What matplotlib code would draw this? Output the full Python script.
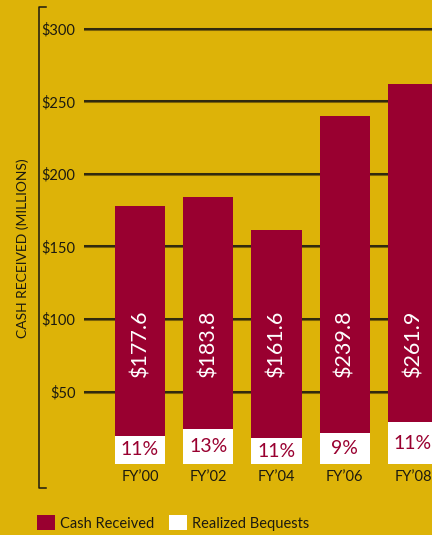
import matplotlib
matplotlib.use("Agg")
import matplotlib.pyplot as plt
from matplotlib.patches import Patch
from matplotlib.lines import Line2D

years = ["FY\u201900", "FY\u201902", "FY\u201904", "FY\u201906", "FY\u201908"]
cash_received = [177.6, 183.8, 161.6, 239.8, 261.9]
bequest_pct = [11, 13, 11, 9, 11]
yticks = [50, 100, 150, 200, 250, 300]
ytick_labels = ["$50", "$100", "$150", "$200", "$250", "$300"]

GOLD = "#DDB308"
CRIMSON = "#990030"
DARK = "#1c1a10"
FONT = ["Lato", "DejaVu Sans"]
plt.rcParams["font.family"] = FONT

W, H = 432, 535
fig = plt.figure(figsize=(W / 100, H / 100), dpi=100, facecolor=GOLD)
ax = fig.add_axes([84 / W, 1 - 488 / H, 1 - 84 / W, (488 - 7) / H])
ax.set_facecolor(GOLD)
ax.set_xlim(-0.82, 4.278)
ax.set_ylim(-16.5, 315)
for s in ax.spines.values():
    s.set_visible(False)

for t in yticks:
    ax.axhline(t, color="#7a6208", lw=2.2, zorder=1)
    ax.axhline(t, color=DARK, lw=1.1, zorder=1.1)

x = list(range(len(years)))
bequest_vals = [v * p / 100 for v, p in zip(cash_received, bequest_pct)]
ax.bar(x, cash_received, width=0.733, color=CRIMSON, zorder=2)
ax.bar(x, bequest_vals, width=0.733, color="white", zorder=3)

for xi, v, b, p in zip(x, cash_received, bequest_vals, bequest_pct):
    ax.text(xi, 83, f"${v:.1f}", rotation=90, ha="center", va="center",
            color="white", fontsize=15.5, zorder=4)
    ax.text(xi, b / 2, f"{p}%", ha="center", va="center",
            color=CRIMSON, fontsize=14, zorder=4)
    ax.text(xi, -9, years[xi], ha="center", va="center",
            color=DARK, fontsize=10.5, zorder=4)

ax.set_yticks(yticks)
ax.set_yticklabels(ytick_labels, fontsize=10.5, color=DARK)
ax.tick_params(axis="y", length=0, pad=6)
ax.set_xticks([])

# bracket-style axis line
bx = 38.5 / W
fig.add_artist(Line2D([bx + 7 / W, bx, bx, bx + 7 / W],
                      [1 - 7 / H, 1 - 7 / H, 1 - 488 / H, 1 - 488 / H],
                      color=DARK, lw=1.1))

fig.text(23 / W, 1 - 248 / H, "CASH RECEIVED (MILLIONS)", rotation=90,
         ha="center", va="center", fontsize=10, color=DARK)

handles = [Patch(facecolor=CRIMSON, edgecolor="none"),
           Patch(facecolor="white", edgecolor="none")]
fig.legend(handles, ["Cash Received", "Realized Bequests"], ncol=2,
           loc="center left", bbox_to_anchor=(37 / W, 1 - 523 / H),
           frameon=False, fontsize=10.5, handlelength=1.2, handleheight=1.2,
           handletextpad=0.4, columnspacing=1.0, labelcolor=DARK,
           borderpad=0, borderaxespad=0)

fig.savefig("out.png", dpi=100, facecolor=GOLD)
